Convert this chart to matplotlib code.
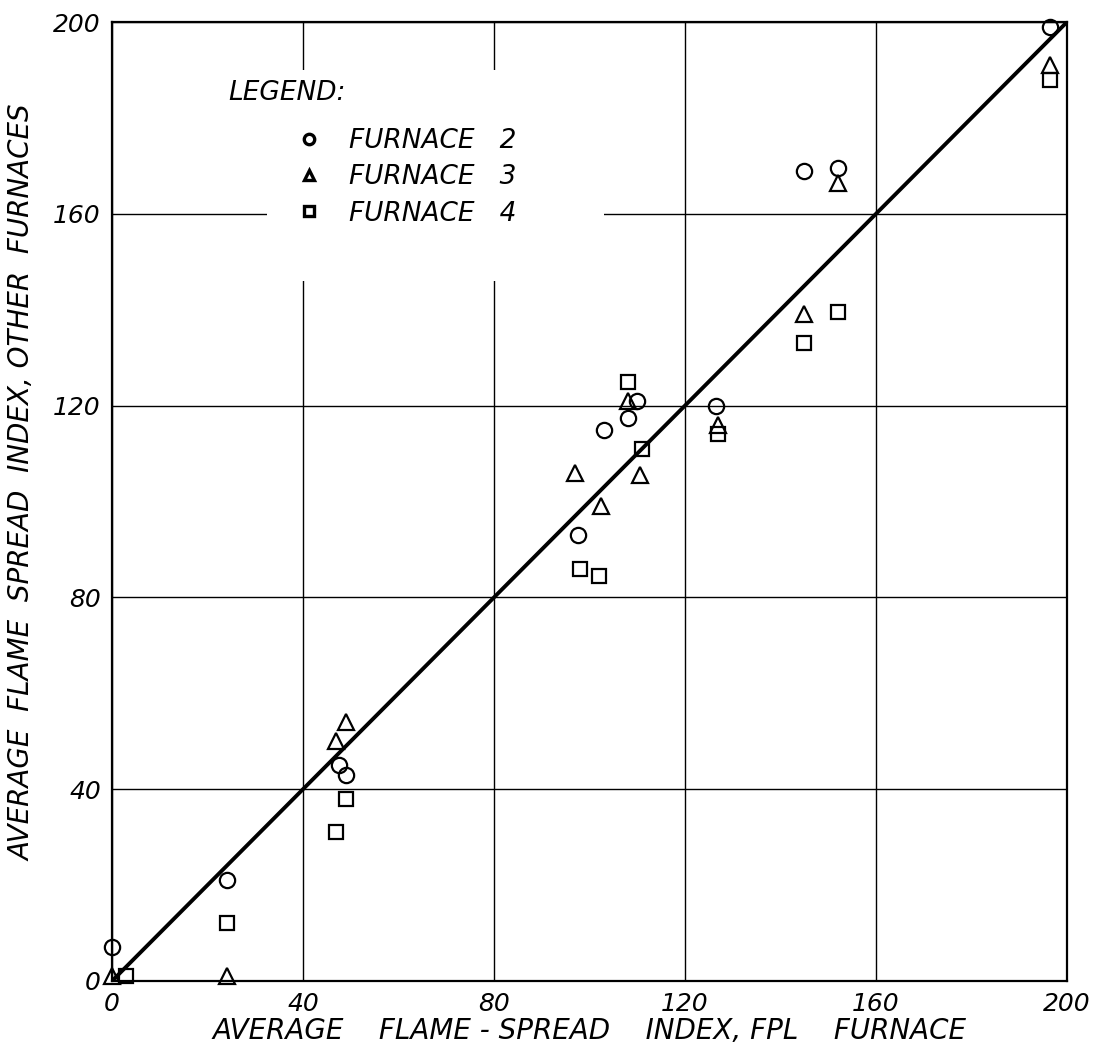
import matplotlib
matplotlib.use("Agg")
import matplotlib.pyplot as plt
from matplotlib.lines import Line2D
from matplotlib.patches import Rectangle

# --- data ---
fpl_f2 = [0, 24, 47.5, 49, 97.5, 103, 108, 110, 126.5, 145, 152, 196.5]
oth_f2 = [7, 21, 45, 43, 93, 115, 117.5, 121, 120, 169, 169.5, 199]
fpl_f3 = [0, 24, 47, 49, 97, 102.5, 108, 110.5, 127, 145, 152, 196.5]
oth_f3 = [1, 1, 50, 54, 106, 99, 121, 105.5, 116, 139, 166.5, 191]
fpl_f4 = [3, 24, 47, 49, 98, 102, 108, 111, 127, 145, 152, 196.5]
oth_f4 = [1, 12, 31, 38, 86, 84.5, 125, 111, 114, 133, 139.5, 188]
ticks = [0, 40, 80, 120, 160, 200]
labels = ["FURNACE   2", "FURNACE   3", "FURNACE   4"]

plt.rcParams['font.family'] = ['DejaVu Sans']
plt.rcParams['font.style'] = 'italic'

fig = plt.figure(figsize=(10.99, 10.63), dpi=100)
ax = fig.add_axes([112/1099, 82/1063, (1067-112)/1099, (981-22)/1063])

lo, hi = ticks[0], ticks[-1]
ax.set_xlim(lo, hi)
ax.set_ylim(lo, hi)
ax.set_xticks(ticks)
ax.set_yticks(ticks)
ax.set_xticklabels([str(t) for t in ticks], fontsize=18, fontstyle='italic')
ax.set_yticklabels([str(t) for t in ticks], fontsize=18, fontstyle='italic')
ax.tick_params(length=0, pad=8)
for s in ax.spines.values():
    s.set_linewidth(1.6)
    s.set_color('black')

ax.set_axisbelow(True)
ax.grid(True, color='black', linewidth=1.0)

# blank area around the legend (grid interrupted)
ax.add_patch(Rectangle((32.4, 146), 103 - 32.4, 190 - 146, facecolor='white',
                       edgecolor='none', zorder=1))

# 1:1 line
ax.plot([lo, hi], [lo, hi], color='black', linewidth=2.8, zorder=2,
        solid_capstyle='butt')

mk = dict(linestyle='none', markerfacecolor='none', markeredgecolor='black',
          markeredgewidth=1.6, clip_on=False, zorder=3)
ax.plot(fpl_f2, oth_f2, marker='o', markersize=11, **mk)
ax.plot(fpl_f3, oth_f3, marker='^', markersize=11, **mk)
ax.plot(fpl_f4, oth_f4, marker='s', markersize=9.5, **mk)

# legend
hk = dict(linestyle='none', markerfacecolor='none', markeredgecolor='black',
          markeredgewidth=2.4)
handles = [Line2D([], [], marker='o', markersize=7.5, **hk),
           Line2D([], [], marker='^', markersize=7.5, **hk),
           Line2D([], [], marker='s', markersize=7, **hk)]
leg = ax.legend(handles, labels, loc='upper left',
                bbox_to_anchor=(38.4, 177.9), bbox_transform=ax.transData,
                frameon=False, prop={'size': 19, 'style': 'italic'},
                handlelength=1.0, handletextpad=1.05, labelspacing=0.39,
                borderpad=0, borderaxespad=0)
leg.set_zorder(4)
ax.text(24.3, 183.7, "LEGEND:", fontsize=19, fontstyle='italic',
        ha='left', va='baseline', zorder=4)

ax.set_xlabel("AVERAGE    FLAME - SPREAD    INDEX, FPL    FURNACE", fontsize=20,
              fontstyle='italic', labelpad=1)
ax.set_ylabel("AVERAGE  FLAME  SPREAD  INDEX, OTHER  FURNACES", fontsize=20,
              fontstyle='italic')
ax.yaxis.set_label_coords(-0.079, 0.52)

fig.savefig("out.png", dpi=100)
